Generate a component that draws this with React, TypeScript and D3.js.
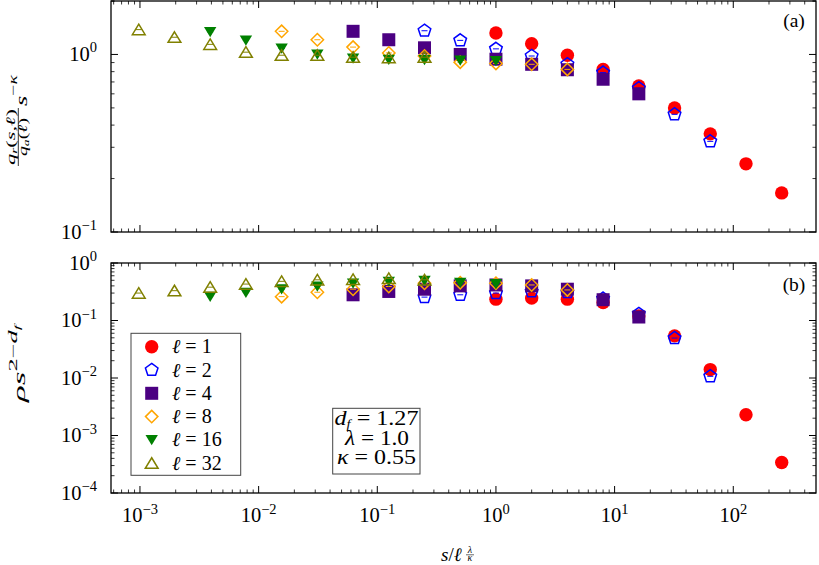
import React from "react";
import * as d3 from "d3";

// ---------- data ----------
const legendLabels = ["1", "2", "4", "8", "16", "32"];

const xL1 = [1, 2, 4, 8, 16, 32, 64, 128, 256];
const xL2 = [0.25, 0.5, 1, 2, 4, 8, 16, 32, 64];
const xL4 = [0.0625, 0.125, 0.25, 0.5, 1, 2, 4, 8, 16];
const xL8 = [0.015625, 0.03125, 0.0625, 0.125, 0.25, 0.5, 1, 2, 4];
const xL16 = [0.00390625, 0.0078125, 0.015625, 0.03125, 0.0625, 0.125, 0.25, 0.5, 1];
const xL32 = [0.0009765625, 0.001953125, 0.00390625, 0.0078125, 0.015625, 0.03125, 0.0625, 0.125, 0.25];

// panel (a): q_r / q_a * s^-kappa
const qL1 = [1.32, 1.15, 0.99, 0.824, 0.665, 0.5, 0.357, 0.242, 0.166];
const qL2 = [1.36, 1.2, 1.075, 0.98, 0.88, 0.79, 0.645, 0.46, 0.324];
const qL4 = [1.35, 1.21, 1.09, 1.0, 0.94, 0.88, 0.82, 0.725, 0.6];
const qL8 = [1.35, 1.21, 1.1, 1.02, 0.98, 0.905, 0.89, 0.88, 0.824];
const qL16 = [1.34, 1.2, 1.08, 1.0, 0.95, 0.935, 0.93, 0.925, 0.92];
const qL32 = [1.38, 1.25, 1.14, 1.03, 0.99, 0.99, 0.965, 0.96, 0.965];

// panel (b): rho s^(2-df)
const rL1 = [0.235, 0.245, 0.235, 0.205, 0.12, 0.054, 0.014, 0.0023, 0.00034];
const rL2 = [0.255, 0.28, 0.3, 0.32, 0.31, 0.24, 0.13, 0.0495, 0.0107];
const rL4 = [0.28, 0.32, 0.35, 0.4, 0.415, 0.4, 0.35, 0.23, 0.115];
const rL8 = [0.26, 0.31, 0.35, 0.39, 0.445, 0.455, 0.445, 0.415, 0.34];
const rL16 = [0.26, 0.305, 0.35, 0.39, 0.44, 0.475, 0.49, 0.455, 0.43];
const rL32 = [0.3, 0.33, 0.38, 0.43, 0.48, 0.51, 0.52, 0.54, 0.51];

const xMajor = [-3, -2, -1, 0, 1, 2];
const yMajorA = [-1, 0];
const yMajorB = [-4, -3, -2, -1, 0];

const annotLines = ["1.27", "1.0", "0.55"];

// ---------- styles ----------
const xs = [xL1, xL2, xL4, xL8, xL16, xL32];
const qs = [qL1, qL2, qL4, qL8, qL16, qL32];
const rs = [rL1, rL2, rL4, rL8, rL16, rL32];
const colors = ["#ff0000", "#0000ff", "#4b0082", "#ffa500", "#008000", "#808000"];
const filled = [true, false, true, false, true, false];
const FONT = "'Liberation Serif', 'DejaVu Serif', serif";

const W = 819, H = 565;
const L = 111, R = 816;
const A_TOP = 1, A_BOT = 232;
const B_TOP = 263, B_BOT = 493;

const x = d3.scaleLog().domain([5.7e-4, 498]).range([L, R]);
const yA = d3.scaleLog().domain([0.1, 2.0]).range([A_BOT, A_TOP]);
const yB = d3.scaleLog().domain([1e-4, 1]).range([B_BOT, B_TOP]);

// custom marker types
const pentagon = {
  draw(ctx: any, size: number) {
    const r = Math.sqrt(size);
    for (let i = 0; i < 5; i++) {
      const a = -Math.PI / 2 + (i * 2 * Math.PI) / 5;
      const px = r * Math.cos(a), py = r * Math.sin(a);
      if (i === 0) ctx.moveTo(px, py); else ctx.lineTo(px, py);
    }
    ctx.closePath();
  },
};
const square = {
  draw(ctx: any, size: number) {
    const h = Math.sqrt(size);
    ctx.moveTo(-h, -h); ctx.lineTo(h, -h); ctx.lineTo(h, h); ctx.lineTo(-h, h); ctx.closePath();
  },
};
const diamond = {
  draw(ctx: any, size: number) {
    const h = Math.sqrt(size);
    ctx.moveTo(0, -h); ctx.lineTo(h, 0); ctx.lineTo(0, h); ctx.lineTo(-h, 0); ctx.closePath();
  },
};
const triUp = {
  draw(ctx: any, size: number) {
    const h = Math.sqrt(size);
    ctx.moveTo(0, -h * 0.85); ctx.lineTo(h, h * 0.8); ctx.lineTo(-h, h * 0.8); ctx.closePath();
  },
};
const triDown = {
  draw(ctx: any, size: number) {
    const h = Math.sqrt(size);
    ctx.moveTo(0, h * 0.85); ctx.lineTo(h, -h * 0.8); ctx.lineTo(-h, -h * 0.8); ctx.closePath();
  },
};
const symbols = [
  d3.symbol().type(d3.symbolCircle).size(Math.PI * 6.7 * 6.7)(),
  d3.symbol().type(pentagon as any).size(6.6 * 6.6)(),
  d3.symbol().type(square as any).size(6.5 * 6.5)(),
  d3.symbol().type(diamond as any).size(6.2 * 6.2)(),
  d3.symbol().type(triDown as any).size(6.2 * 6.2)(),
  d3.symbol().type(triUp as any).size(6.4 * 6.4)(),
];

function Marker({ i, cx, cy }: { i: number; cx: number; cy: number }) {
  return (
    <path
      d={symbols[i] as string}
      transform={`translate(${cx},${cy})`}
      fill={filled[i] ? colors[i] : "none"}
      stroke={filled[i] ? "none" : colors[i]}
      strokeWidth={1.5}
    />
  );
}

function Pow({ px, py, e, anchor }: { px: number; py: number; e: number; anchor: string }) {
  return (
    <text x={px} y={py} textAnchor={anchor as any} fontFamily={FONT} fontSize={20.5} fill="#000">
      10
      <tspan dy={-8.5} fontSize={14.5}>{e < 0 ? "\u2212" + Math.abs(e) : String(e)}</tspan>
    </text>
  );
}

function minorTicks(lo: number, hi: number, dlo: number, dhi: number) {
  const out: number[] = [];
  for (let e = lo; e <= hi; e++) for (let d = 2; d <= 9; d++) {
    const v = d * Math.pow(10, e);
    if (v > dlo * 1.0001 && v < dhi * 0.9999) out.push(v);
  }
  return out;
}

function Panel({ y, top, bot, data, majors, minors }: any) {
  const [d0, d1] = x.domain();
  const xMin = minorTicks(-4, 2, d0, d1);
  const els: any[] = [];
  xMajor.forEach((e, k) => {
    const px = x(Math.pow(10, e));
    els.push(<line key={"xm" + k} x1={px} x2={px} y1={bot} y2={bot - 7} stroke="#000" strokeWidth={1} />);
    els.push(<line key={"xmt" + k} x1={px} x2={px} y1={top} y2={top + 7} stroke="#000" strokeWidth={1} />);
  });
  xMin.forEach((v, k) => {
    const px = x(v);
    els.push(<line key={"xn" + k} x1={px} x2={px} y1={bot} y2={bot - 3.5} stroke="#000" strokeWidth={0.8} />);
    els.push(<line key={"xnt" + k} x1={px} x2={px} y1={top} y2={top + 3.5} stroke="#000" strokeWidth={0.8} />);
  });
  majors.forEach((e: number, k: number) => {
    const py = y(Math.pow(10, e));
    els.push(<line key={"ym" + k} x1={L} x2={L + 7} y1={py} y2={py} stroke="#000" strokeWidth={1} />);
    els.push(<line key={"ymr" + k} x1={R} x2={R - 7} y1={py} y2={py} stroke="#000" strokeWidth={1} />);
  });
  minors.forEach((v: number, k: number) => {
    const py = y(v);
    els.push(<line key={"yn" + k} x1={L} x2={L + 3.5} y1={py} y2={py} stroke="#000" strokeWidth={0.8} />);
    els.push(<line key={"ynr" + k} x1={R} x2={R - 3.5} y1={py} y2={py} stroke="#000" strokeWidth={0.8} />);
  });
  const marks: any[] = [];
  data.forEach((vals: number[], i: number) => {
    xs[i].forEach((xv, j) => {
      const cx = x(xv), cy = y(vals[j]);
      marks.push(
        <g key={`s${i}_${j}`}>
          <line x1={cx - 3} x2={cx + 3} y1={cy} y2={cy} stroke={colors[i]} strokeWidth={1} />
          <Marker i={i} cx={cx} cy={cy} />
        </g>
      );
    });
  });
  return (
    <g>
      {marks}
      {els}
      <rect x={L} y={top} width={R - L} height={bot - top} fill="none" stroke="#000" strokeWidth={1.3} />
    </g>
  );
}

export default function App() {
  const yMinA = minorTicks(-1, 0, 0.1, 2.01).concat([2]);
  const yMinB = minorTicks(-4, -1, 1e-4, 1);
  const legY0 = 346.7, legDy = 23.3;
  return (
    <svg width={W} height={H} style={{ position: "absolute", left: 0, top: 0, background: "#fff" }}>
      <rect x={0} y={0} width={W} height={H} fill="#fff" />
      <Panel y={yA} top={A_TOP} bot={A_BOT} data={qs} majors={yMajorA} minors={yMinA} />
      <Panel y={yB} top={B_TOP} bot={B_BOT} data={rs} majors={yMajorB} minors={yMinB} />

      {yMajorA.map((e) => (
        <Pow key={"la" + e} px={97} py={yA(Math.pow(10, e)) + 6.5} e={e} anchor="end" />
      ))}
      {yMajorB.map((e) => (
        <Pow key={"lb" + e} px={97} py={yB(Math.pow(10, e)) + 6.8} e={e} anchor="end" />
      ))}
      {xMajor.map((e) => (
        <Pow key={"lx" + e} px={x(Math.pow(10, e))} py={522} e={e} anchor="middle" />
      ))}

      <text x={794} y={27} textAnchor="middle" fontFamily={FONT} fontSize={19.5}>(a)</text>
      <text x={794} y={291} textAnchor="middle" fontFamily={FONT} fontSize={19.5}>(b)</text>

      {/* y label (a) */}
      <g transform="translate(27,167) rotate(-90)">
        <text x={30} y={-12} textAnchor="middle" fontFamily={FONT} fontSize={13} fontStyle="italic"
          textLength={56} lengthAdjust="spacingAndGlyphs">
          q<tspan fontSize={9} dy={2}>r</tspan>
          <tspan dy={-2} fontStyle="normal">(</tspan>s,ℓ<tspan fontStyle="normal">)</tspan>
        </text>
        <line x1={1} x2={59} y1={-8.7} y2={-8.7} stroke="#000" strokeWidth={0.8} />
        <text x={30} y={-0.5} textAnchor="middle" fontFamily={FONT} fontSize={13} fontStyle="italic"
          textLength={38} lengthAdjust="spacingAndGlyphs">
          q<tspan fontSize={9} dy={2}>a</tspan>
          <tspan dy={-2} fontStyle="normal">(</tspan>ℓ<tspan fontStyle="normal">)</tspan>
        </text>
        <text x={61} y={0} fontFamily={FONT} fontSize={16} fontStyle="italic"
          textLength={31} lengthAdjust="spacingAndGlyphs">
          s<tspan dy={-10} fontSize={12} fontStyle="normal">{"\u2212"}</tspan>
          <tspan fontSize={12} fontStyle="italic">κ</tspan>
        </text>
      </g>

      {/* y label (b) */}
      <g transform="translate(25,402) rotate(-90)">
        <text x={0} y={0} fontFamily={FONT} fontSize={16} fontStyle="italic"
          textLength={77} lengthAdjust="spacingAndGlyphs">
          ρs<tspan dy={-8} fontSize={12} fontStyle="normal">2{"\u2212"}</tspan>
          <tspan fontSize={12} fontStyle="italic">d</tspan>
          <tspan dy={3} fontSize={8.5} fontStyle="italic">f</tspan>
        </text>
      </g>

      {/* x label */}
      <text x={441} y={561} fontFamily={FONT} fontSize={19}>
        <tspan fontStyle="italic">s</tspan>/<tspan fontStyle="italic">ℓ</tspan>
      </text>
      <text x={470} y={553} textAnchor="middle" fontFamily={FONT} fontSize={10} fontStyle="italic">λ</text>
      <line x1={466} x2={474} y1={554.8} y2={554.8} stroke="#000" strokeWidth={0.6} />
      <text x={470} y={561} textAnchor="middle" fontFamily={FONT} fontSize={10} fontStyle="italic">κ</text>

      {/* legend */}
      <rect x={131} y={333.3} width={109.7} height={142} fill="#fff" stroke="#444" strokeWidth={1} />
      {legendLabels.map((lab, i) => (
        <g key={"lg" + i}>
          <Marker i={i} cx={151.7} cy={legY0 + i * legDy} />
          <text x={172} y={legY0 + i * legDy + 6.5} fontFamily={FONT} fontSize={20}>
            <tspan fontStyle="italic">ℓ</tspan> = {lab}
          </text>
        </g>
      ))}

      {/* annotation box */}
      <rect x={332.7} y={408.3} width={87.3} height={65.7} fill="#fff" stroke="#444" strokeWidth={1} />
      <text x={376.5} y={425} textAnchor="middle" fontFamily={FONT} fontSize={20}
        textLength={84} lengthAdjust="spacingAndGlyphs">
        <tspan fontStyle="italic">d</tspan><tspan fontSize={12} dy={3} fontStyle="italic">f</tspan>
        <tspan dy={-3}>{" = " + annotLines[0]}</tspan>
      </text>
      <text x={377} y={445} textAnchor="middle" fontFamily={FONT} fontSize={20}
        textLength={64} lengthAdjust="spacingAndGlyphs">
        <tspan fontStyle="italic">λ</tspan>{" = " + annotLines[1]}
      </text>
      <text x={376.5} y={464} textAnchor="middle" fontFamily={FONT} fontSize={20}
        textLength={79} lengthAdjust="spacingAndGlyphs">
        <tspan fontStyle="italic">κ</tspan>{" = " + annotLines[2]}
      </text>
    </svg>
  );
}
